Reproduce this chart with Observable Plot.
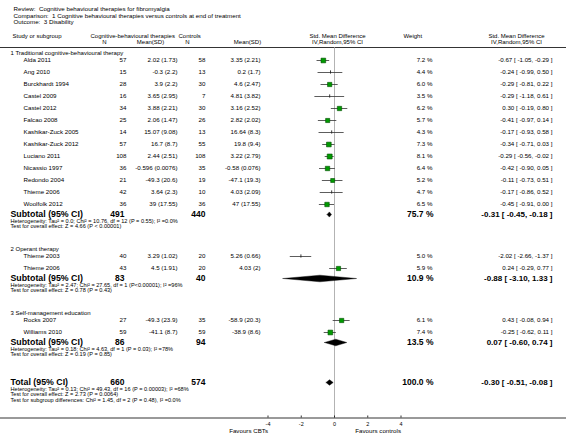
<!DOCTYPE html>
<html><head><meta charset="utf-8">
<script src="https://cdn.jsdelivr.net/npm/d3@7"></script>
<script src="https://cdn.jsdelivr.net/npm/@observablehq/plot@0.6"></script>
<style>html,body{margin:0;padding:0;background:#fff;}</style>
</head><body><div id="chart"></div>
<script>
// ---------- data ----------
const titleLines = [
  "Review:  Cognitive behavioural therapies for fibromyalgia",
  "Comparison:  1 Cognitive behavioural therapies versus controls at end of treatment",
  "Outcome:  3 Disability"
];
const groupNames = [
  "1 Traditional cognitive-behavioural therapy",
  "2 Operant therapy",
  "3 Self-management education"
];
const studyNames = ["Alda 2011","Ang 2010","Burckhardt 1994","Castel 2009","Castel 2012","Falcao 2008","Kashikar-Zuck 2005","Kashikar-Zuck 2012","Luciano 2011","Nicassio 1997","Redondo 2004","Thieme 2006","Woolfolk 2012","Thieme 2003","Thieme 2006","Rocks 2007","Williams 2010"];
const studyGroup = [0,0,0,0,0,0,0,0,0,0,0,0,0,1,1,2,2];
const cbtN = [57,15,28,16,34,25,14,57,108,36,21,42,36,40,43,27,59];
const cbtMeanSD = ["2.02 (1.73)","-0.3 (2.2)","3.9 (2.2)","3.65 (2.95)","3.88 (2.21)","2.06 (1.47)","15.07 (9.08)","16.7 (8.7)","2.44 (2.51)","-0.596 (0.0076)","-49.3 (20.6)","3.64 (2.3)","39 (17.55)","3.29 (1.02)","4.5 (1.91)","-49.3 (23.9)","-41.1 (8.7)"];
const ctrlN = [58,13,30,7,30,26,13,55,108,35,19,10,36,20,20,35,59];
const ctrlMeanSD = ["3.35 (2.21)","0.2 (1.7)","4.6 (2.47)","4.81 (3.82)","3.16 (2.52)","2.82 (2.02)","16.64 (8.3)","19.8 (9.4)","3.22 (2.79)","-0.58 (0.076)","-47.1 (19.3)","4.03 (2.09)","47 (17.55)","5.26 (0.66)","4.03 (2)","-58.9 (20.3)","-38.9 (8.6)"];
const weights = [7.2,4.4,6.0,3.5,6.2,5.7,4.3,7.3,8.1,6.4,5.2,4.7,6.5,5.0,5.9,6.1,7.4];
const smd   = [-0.67,-0.24,-0.29,-0.29,0.30,-0.41,-0.17,-0.34,-0.29,-0.42,-0.11,-0.17,-0.45,-2.02,0.24,0.43,-0.25];
const ciLow = [-1.05,-0.99,-0.81,-1.18,-0.19,-0.97,-0.93,-0.71,-0.56,-0.90,-0.73,-0.86,-0.91,-2.66,-0.29,-0.08,-0.62];
const ciHigh= [-0.29,0.50,0.22,0.61,0.80,0.14,0.58,0.03,-0.02,0.05,0.51,0.52,0.00,-1.37,0.77,0.94,0.11];

const subCbtN = [491,83,86];
const subCtrlN = [440,40,94];
const subWeight = [75.7,10.9,13.5];
const subSmd = [-0.31,-0.88,0.07];
const subLow = [-0.45,-3.10,-0.60];
const subHigh = [-0.18,1.33,0.74];
const subHet = [
  "Heterogeneity: Tau² = 0.0; Chi² = 10.76, df = 12 (P = 0.55); I² =0.0%",
  "Heterogeneity: Tau² = 2.47; Chi² = 27.65, df = 1 (P<0.00001); I² =96%",
  "Heterogeneity: Tau² = 0.18; Chi² = 4.63, df = 1 (P = 0.03); I² =78%"
];
const subTest = [
  "Test for overall effect: Z = 4.66 (P < 0.00001)",
  "Test for overall effect: Z = 0.78 (P = 0.43)",
  "Test for overall effect: Z = 0.19 (P = 0.85)"
];
const totalCbtN = 660, totalCtrlN = 574, totalWeight = 100.0;
const totalSmd = -0.30, totalLow = -0.51, totalHigh = -0.08;
const totalNotes = [
  "Heterogeneity: Tau² = 0.13; Chi² = 49.43, df = 16 (P = 0.00003); I² =68%",
  "Test for overall effect: Z = 2.73 (P = 0.0064)",
  "Test for subgroup differences: Chi² = 1.45, df = 2 (P = 0.48), I² =0.0%"
];
const xTicks = [-4,-2,0,2,4];
const favourLabels = ["Favours CBTs","Favours controls"];

// ---------- layout ----------
const W = 566, H = 443;
const FONT = "'Liberation Sans', Arial, Helvetica, sans-serif";
const col = {group:10, study:23, cbtN:126, cbtM:177, ctrlN:205, ctrlM:260, weight:432, ci:552};
const fmt = v => v.toFixed(2);
const ciText = (e,l,h) => `${fmt(e)} [ ${fmt(l)}, ${fmt(h)} ]`;

const studyRows = [], groupRows = [], subRows = [], noteRows = [];
let y = 53;
groupNames.forEach((g, gi) => {
  groupRows.push({label:g, y});
  y += 7;
  let last = y;
  studyNames.forEach((s, i) => {
    if (studyGroup[i] !== gi) return;
    studyRows.push({name:s, g:gi, y, n1:cbtN[i], m1:cbtMeanSD[i], n2:ctrlN[i], m2:ctrlMeanSD[i],
      w:weights[i], e:smd[i], lo:ciLow[i], hi:ciHigh[i]});
    last = y; y += 12;
  });
  const sy = last + 10;
  subRows.push({label:"Subtotal (95% CI)", y:sy, n1:subCbtN[gi], n2:subCtrlN[gi], w:subWeight[gi],
    e:subSmd[gi], lo:subLow[gi], hi:subHigh[gi], h: gi===0 ? 2.6 : 3.3});
  noteRows.push({t:subHet[gi], y:sy+6.5});
  noteRows.push({t:subTest[gi], y:sy+12});
  y = sy + 12 + 23;
});
const totY = subRows[2].y + 12 + 28;
subRows.push({label:"Total (95% CI)", y:totY, n1:totalCbtN, n2:totalCtrlN, w:totalWeight,
  e:totalSmd, lo:totalLow, hi:totalHigh, h:2.8, total:true});
totalNotes.forEach((t,i) => noteRows.push({t, y: totY + 6.5 + 5.6*i}));

const headerLineY = 47, axisY = 417.5;
const diamonds = subRows.flatMap((r,i) => [
  {id:i, x:r.lo, y:r.y}, {id:i, x:r.e, y:r.y - r.h}, {id:i, x:r.hi, y:r.y},
  {id:i, x:r.e, y:r.y + r.h}, {id:i, x:r.lo, y:r.y}
]);
const bigSq = studyRows.filter(d => d.w > 5.05);
const smallSq = studyRows.filter(d => d.w <= 5.05);

const T = (data, o) => Plot.text(data, {frameAnchor:"left", fontFamily:FONT, fill:"black", ...o});

const headers = [
  {t:"Study or subgroup", x:12, y:35.5, a:"start"},
  {t:"Cognitive-behavioural therapies", x:90, y:35.5, a:"start"},
  {t:"Controls", x:178, y:35.5, a:"start"},
  {t:"N", x:104, y:41.5, a:"middle"},
  {t:"Mean(SD)", x:150, y:41.5, a:"middle"},
  {t:"N", x:187, y:41.5, a:"middle"},
  {t:"Mean(SD)", x:247, y:41.5, a:"middle"},
  {t:"Std. Mean Difference", x:337, y:36, a:"middle"},
  {t:"IV,Random,95% CI", x:337, y:42, a:"middle"},
  {t:"Weight", x:403, y:36, a:"start"},
  {t:"Std. Mean Difference", x:516, y:36, a:"middle"},
  {t:"IV,Random,95% CI", x:516, y:42, a:"middle"}
];

const chart = Plot.plot({
  width: W, height: H,
  margin: 0,
  x: {domain:[-4,4], range:[267.5,400.5], axis:null},
  y: {domain:[0,H], range:[0,H], axis:null},
  r: {type:"sqrt", domain:[0,8.1], range:[0,2.8]},
  style: {background:"white"},
  marks: [
    // title
    ...titleLines.map((t,i) => T([t], {text:d=>d, y:8.5 + 6.7*i, dx:13, textAnchor:"start", fontSize:6.2})),
    // headers
    ...headers.map(h => T([h], {text:"t", y:"y", dx:h.x, textAnchor:h.a, fontSize:6})),
    Plot.ruleY([headerLineY], {stroke:"black", strokeWidth:0.8}),
    // zero line
    Plot.ruleX([0], {y1:headerLineY, y2:axisY, stroke:"#a0a0a0", strokeWidth:0.8}),
    // CI lines
    Plot.ruleY(studyRows, {x1:"lo", x2:"hi", y:"y", stroke:"#333", strokeWidth:0.8}),
    Plot.ruleX(smallSq, {x:"e", y1:d=>d.y-1.6, y2:d=>d.y+1.6, stroke:"#222", strokeWidth:0.9}),
    Plot.dot(bigSq, {x:"e", y:"y", r:"w", symbol:"square", fill:"#009a00", stroke:"#004d00", strokeWidth:0.6}),
    // diamonds
    Plot.line(diamonds, {x:"x", y:"y", z:"id", fill:"black", stroke:"black", strokeWidth:0.4}),
    // group headers
    T(groupRows, {text:"label", y:"y", dx:col.group, textAnchor:"start", fontSize:6}),
    // study rows
    T(studyRows, {text:"name", y:"y", dx:col.study, textAnchor:"start", fontSize:6.2}),
    T(studyRows, {text:"n1", y:"y", dx:col.cbtN, textAnchor:"end", fontSize:6.2}),
    T(studyRows, {text:"m1", y:"y", dx:col.cbtM, textAnchor:"end", fontSize:6.2}),
    T(studyRows, {text:"n2", y:"y", dx:col.ctrlN, textAnchor:"end", fontSize:6.2}),
    T(studyRows, {text:"m2", y:"y", dx:col.ctrlM, textAnchor:"end", fontSize:6.2}),
    T(studyRows, {text:d=>`${d.w.toFixed(1)} %`, y:"y", dx:col.weight, textAnchor:"end", fontSize:6.2}),
    T(studyRows, {text:d=>ciText(d.e,d.lo,d.hi), y:"y", dx:col.ci, textAnchor:"end", fontSize:6.2}),
    // subtotal rows
    T(subRows, {text:"label", y:"y", dx:col.group, textAnchor:"start", fontSize:8.8, fontWeight:"bold"}),
    T(subRows, {text:"n1", y:"y", dx:col.cbtN-2, textAnchor:"end", fontSize:8.5, fontWeight:"bold"}),
    T(subRows, {text:"n2", y:"y", dx:col.ctrlN, textAnchor:"end", fontSize:8.5, fontWeight:"bold"}),
    T(subRows, {text:d=>`${d.w.toFixed(1)} %`, y:"y", dx:col.weight+1, textAnchor:"end", fontSize:8.5, fontWeight:"bold"}),
    T(subRows, {text:d=>ciText(d.e,d.lo,d.hi), y:"y", dx:col.ci, textAnchor:"end", fontSize:8, fontWeight:"bold"}),
    T(noteRows, {text:"t", y:"y", dx:col.group, textAnchor:"start", fontSize:5.6}),
    // axis
    Plot.ruleY([axisY], {stroke:"black", strokeWidth:0.8}),
    Plot.ruleX(xTicks, {x:d=>d, y1:axisY-2, y2:axisY, stroke:"black", strokeWidth:0.8}),
    Plot.text(xTicks, {x:d=>d, y:axisY+6, text:d=>String(d), fontSize:5.5, fontFamily:FONT, fill:"black"}),
    Plot.text(favourLabels, {x:(d,i)=>xTicks[i*4], y:axisY+13, text:d=>d, textAnchor:"end", fontSize:6.2, fontFamily:FONT, fill:"black"})
  ]
});
document.getElementById("chart").appendChild(chart);
</script>
</body></html>
